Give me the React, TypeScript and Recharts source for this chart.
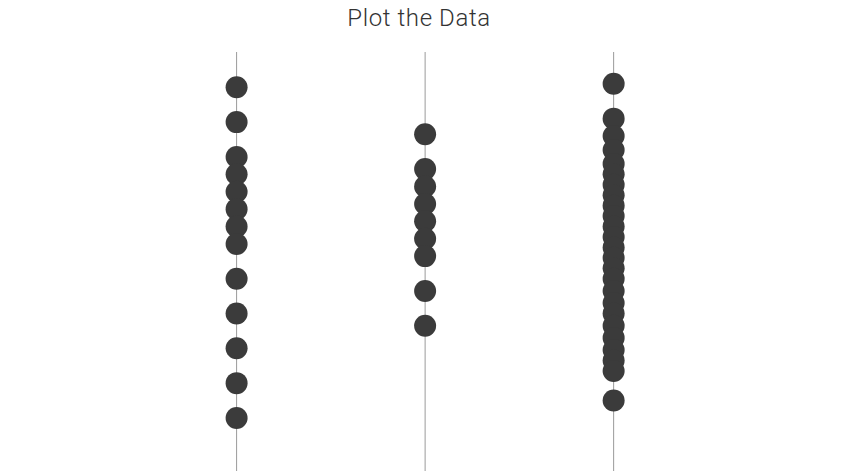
import { ScatterChart, Scatter, XAxis, YAxis, ReferenceLine } from "recharts";

// three groups, one vertical strip each
const groups = [0, 1, 2];

const groupA = [19, 17, 15, 14, 13, 12, 11, 10, 8, 6, 4, 2, 0];
const groupB = [16.3, 14.3, 13.3, 12.3, 11.3, 10.3, 9.3, 7.3, 5.3];
const groupC = [
  19.2, 17.2, 16.2, 15.4, 14.6, 14.0, 13.4, 12.8, 12.2, 11.6, 11.0, 10.4, 9.8,
  9.2, 8.6, 8.0, 7.3, 6.6, 6.0, 5.3, 4.6, 3.9, 3.3, 2.7, 1.0,
];

const DOT = "#3b3b3b";
const RULE = "#9a9a9a";

const toPoints = (g: number, vals: number[]) => vals.map((v) => ({ g, v }));

const Dot = (props: any) => {
  const { cx, cy } = props;
  return <circle cx={cx} cy={cy} r={11} fill={DOT} />;
};

export default function App() {
  const all = [
    ...toPoints(0, groupA),
    ...toPoints(1, groupB),
    ...toPoints(2, groupC),
  ];

  return (
    <div style={{ position: "absolute", left: 0, top: 0, width: 854, height: 471, background: "#fff" }}>
      <div
        style={{
          position: "absolute",
          left: 0,
          top: 4,
          width: 838,
          textAlign: "center",
          fontFamily: "Roboto, sans-serif",
          fontWeight: 300,
          fontSize: 24,
          letterSpacing: 0.6,
          color: "#333",
        }}
      >
        Plot the Data
      </div>
      <ScatterChart
        width={854}
        height={471}
        margin={{ top: 52, right: 0, bottom: 0, left: 0 }}
      >
        <XAxis dataKey="g" type="number" domain={[-1.255, 3.275]} hide />
        <YAxis dataKey="v" type="number" domain={[-3.05, 21.03]} hide />
        {groups.map((g) => (
          <ReferenceLine key={g} x={g} stroke={RULE} strokeWidth={1} />
        ))}
        <Scatter data={all} shape={Dot} isAnimationActive={false} />
      </ScatterChart>
    </div>
  );
}
